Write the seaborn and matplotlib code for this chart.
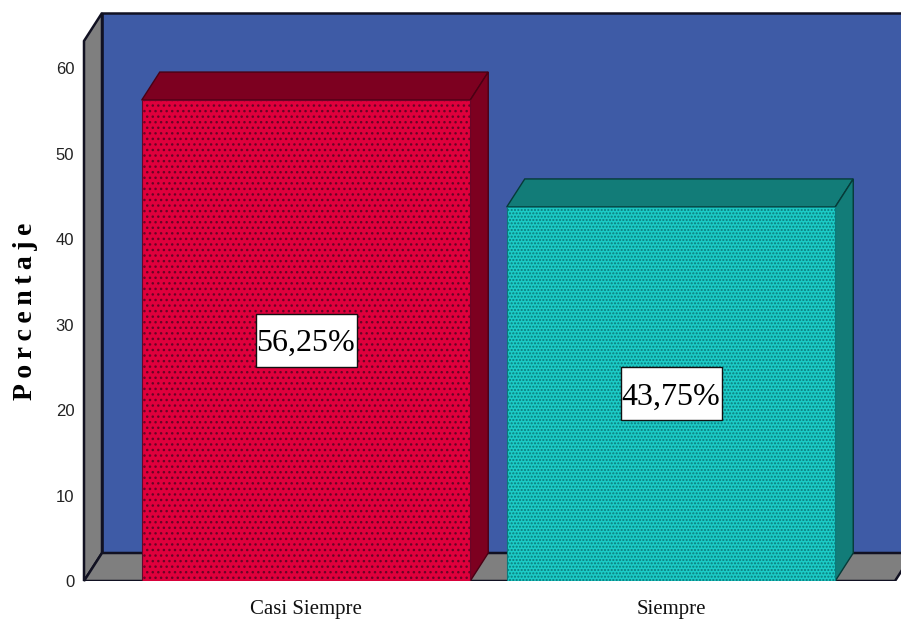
import matplotlib
matplotlib.use("Agg")
import matplotlib.pyplot as plt
from matplotlib.patches import Polygon, Rectangle
import pandas as pd
import seaborn as sns

categories = ["Casi Siempre", "Siempre"]
values = [56.25, 43.75]
value_labels = ["56,25%", "43,75%"]
y_ticks = [0, 10, 20, 30, 40, 50, 60]
y_title = "P\u2009o\u2009r\u2009c\u2009e\u2009n\u2009t\u2009a\u2009j\u2009e"

W, H = 901, 621
BLUE, GREY = "#3E5BA6", "#7F7F7F"
FRONT = ["#DF003C", "#1CCBC7"]
SIDE = ["#7D0020", "#127C78"]
SIDE_EDGE = ["#4A0014", "#063A38"]
HATCH = ["#6A0426", "#0A7A7A"]
PATTERN = ["...", "....."]
PX_PER_UNIT = 8.55

sns.set_style("white")
fig = plt.figure(figsize=(W / 100, H / 100), dpi=100)
# axes box: left 84 px, right edge of figure, baseline 581 px, top 13 px
ax = fig.add_axes([84 / W, (H - 581) / H, (W - 84) / W, (581 - 13) / H])

df = pd.DataFrame({"cat": categories, "val": values})
sns.barplot(data=df, x="cat", y="val", hue="cat", palette=FRONT, legend=False,
            width=0.9, saturation=1, ax=ax, zorder=5)

ax.set_xlim((84 - 306) / 365, (901 - 306) / 365)
ax.set_ylim(0, (581 - 13) / PX_PER_UNIT)

dx = 18 / 365                 # depth offset in x-data units
dy = 28 / PX_PER_UNIT         # depth offset in y-data units
x0, x1 = ax.get_xlim()
top = ax.get_ylim()[1]
floor_end = x1 - 6 / 365
line = dict(edgecolor="#111122", linewidth=1.8, joinstyle="miter")

ax.add_patch(Polygon([(x0 + dx, dy), (x1 + 1, dy), (x1 + 1, top), (x0 + dx, top)],
                     facecolor=BLUE, zorder=1, clip_on=False, **line))
ax.add_patch(Polygon([(x0, 0), (x0 + dx, dy), (x0 + dx, top), (x0, top - dy)],
                     facecolor=GREY, zorder=2, clip_on=False, **line))
ax.add_patch(Polygon([(x0, 0), (floor_end, 0), (floor_end + dx, dy), (x0 + dx, dy)],
                     facecolor=GREY, zorder=2, **line))

bars = [p for p in ax.patches if p.get_zorder() == 5]
for i, bar in enumerate(bars):
    bx, bw, bh = bar.get_x(), bar.get_width(), bar.get_height()
    bar.set_hatch(PATTERN[i])
    bar.set_edgecolor(HATCH[i])
    bar.set_linewidth(0.8)
    side = dict(facecolor=SIDE[i], edgecolor=SIDE_EDGE[i], linewidth=1.0, zorder=4)
    ax.add_patch(Polygon([(bx, bh), (bx + bw, bh), (bx + bw + dx, bh + dy), (bx + dx, bh + dy)], **side))
    ax.add_patch(Polygon([(bx + bw, 0), (bx + bw + dx, dy), (bx + bw + dx, bh + dy), (bx + bw, bh)], **side))
    cx, cy = bx + bw / 2, bh / 2
    box_w, box_h = 101 / 365, 53 / PX_PER_UNIT
    ax.add_patch(Rectangle((cx - box_w / 2, cy - box_h / 2), box_w, box_h, facecolor="white",
                           edgecolor="#111111", linewidth=1, zorder=6))
    ax.text(cx, cy - 3 / PX_PER_UNIT, value_labels[i], ha="center", va="center", zorder=7,
            family="Liberation Serif", fontsize=23, color="black")

for s in ax.spines.values():
    s.set_visible(False)
ax.set_yticks(y_ticks)
ax.set_yticklabels([str(v) for v in y_ticks], family="Liberation Sans", fontsize=12)
ax.set_xticks(range(len(categories)))
ax.set_xticklabels(categories, family="Liberation Serif", fontsize=15)
ax.tick_params(axis="y", length=0, pad=7, colors="#222222")
ax.tick_params(axis="x", length=0, pad=14, colors="#111111")
ax.set_xlabel("")
ax.set_ylabel("")
fig.text(26 / W, 1 - 311 / H, y_title, rotation=90, ha="center", va="center",
         family="Liberation Serif", fontweight="bold", fontsize=20, color="black")

fig.savefig("out.png", dpi=100)
